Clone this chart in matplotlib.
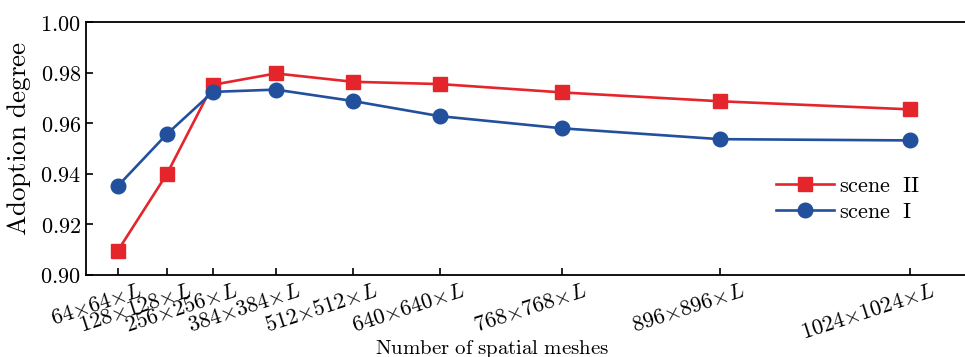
import matplotlib.pyplot as plt

plt.rcParams['mathtext.fontset'] = 'cm'
plt.rcParams['font.family'] = 'serif'
plt.rcParams['font.serif'] = ['DejaVu Serif']

# mesh sizes and where each one sits along the axis
mesh = [64, 128, 256, 384, 512, 640, 768, 896, 1024]
x_pos = [32, 81, 127, 190, 267, 354, 476, 634, 824]

scene2 = [0.9096, 0.9399, 0.9752, 0.9797, 0.9764, 0.9755, 0.9722, 0.9687, 0.9655]
scene1 = [0.9352, 0.9557, 0.9724, 0.9733, 0.9688, 0.9628, 0.9580, 0.9537, 0.9532]

y_ticks = [0.90, 0.92, 0.94, 0.96, 0.98, 1.00]

red = '#e4262c'
blue = '#22509c'

fig = plt.figure(figsize=(9.65, 3.57), dpi=100)
ax = fig.add_axes([0.089, 0.230, 0.95, 0.708])

ax.plot(x_pos, scene2, color=red, lw=1.9, marker='s', ms=9.5, label=r'$\mathrm{scene\ \ II}$')
ax.plot(x_pos, scene1, color=blue, lw=1.9, marker='o', ms=10.5, label=r'$\mathrm{scene\ \ I}$')

ax.set_xlim(0, 917)
ax.set_ylim(0.90, 1.00)

ax.set_yticks(y_ticks)
ax.set_yticklabels([r'$%.2f$' % v for v in y_ticks], fontsize=16)
ax.set_xticks(x_pos)
ax.set_xticklabels([])

# slanted mesh labels, ending a little right of their tick
for x, m in zip(x_pos, mesh):
    ax.annotate(r'$%d{\times}%d{\times}L$' % (m, m), xy=(x, 0),
                xycoords=('data', 'axes fraction'), xytext=(21, -5),
                textcoords='offset pixels', fontsize=16, rotation=18,
                ha='right', va='top', rotation_mode='anchor')

ax.tick_params(direction='in', length=5, width=1.2, top=False, right=False)
for s in ax.spines.values():
    s.set_linewidth(1.3)
ax.spines['right'].set_visible(False)

ax.set_ylabel(r'$\mathrm{Adoption\ degree}$', fontsize=19.5)
ax.yaxis.set_label_coords(-0.058, 0.54)
ax.set_xlabel(r'$\mathrm{Number\ of\ spatial\ meshes}$', fontsize=15)
ax.xaxis.set_label_coords(0.443, -0.25)

ax.legend(loc='upper left', bbox_to_anchor=(0.741, 0.44), frameon=False,
          fontsize=16, handlelength=2.6, handletextpad=0.2, labelspacing=0.2,
          borderpad=0)

fig.savefig('out.png', dpi=100)
